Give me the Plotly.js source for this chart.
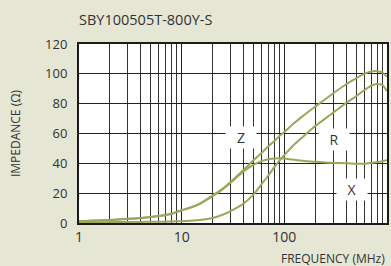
<!DOCTYPE html>
<html>
<head>
<meta charset="utf-8">
<script src="https://cdn.plot.ly/plotly-3.0.1.min.js"></script>
<style>html,body{margin:0;padding:0;background:#e5e6d3;}#chart{width:391px;height:266px;}</style>
</head>
<body>
<div id="chart"></div>
<script>
const freq = [1, 1.5, 2, 3, 4, 5, 6, 7, 8, 10, 12, 15, 20, 25, 30, 40, 50, 60, 70, 80, 90, 100, 120, 150, 200, 250, 300, 400, 500, 600, 700, 800, 900, 1000];
const zVals = [1.2, 1.6, 2.0, 2.8, 3.4, 4.0, 4.7, 5.4, 6.2, 8.5, 10.2, 13, 18.5, 23, 27.5, 35.5, 42, 47, 51.5, 55, 58.5, 61, 66, 71.5, 78, 83, 87, 93, 97, 100, 101.5, 101.8, 101, 98];
const rVals = [0.5, 0.55, 0.6, 0.7, 0.75, 0.8, 0.85, 0.9, 1.0, 1.2, 1.5, 2, 3.3, 5.5, 8, 13, 19, 26, 32, 37.5, 42, 45.5, 51.5, 57.5, 65, 70, 74, 80.5, 85, 89, 92, 93.2, 92.5, 88.5];
const xVals = [1.2, 1.6, 2.0, 2.8, 3.4, 4.0, 4.7, 5.4, 6.2, 8.5, 10.1, 12.8, 18, 22.5, 27, 34.5, 39, 41.5, 42.8, 43.3, 43.4, 43.2, 42.5, 41.8, 41, 40.6, 40.3, 40, 39.8, 39.8, 40.2, 40.8, 41.4, 42];
const curveNames = ['Z', 'R', 'X'];
const labelFreq = [37.8, 304, 452];
const labelImp = [57.2, 55.9, 22.3];
const xTickVals = [1, 10, 100, 1000];
const xTickText = ['1', '10', '100', '1000\u00a0\u00a0\u00a0\u00a0\u00a0'];
const yTickVals = [0, 20, 40, 60, 80, 100, 120];
const titleText = 'SBY100505T-800Y-S';
const xTitle = 'FREQUENCY (MHz)';
const yTitle = 'IMPEDANCE (\u03A9)';

const lineColor = '#9aa65a';
const series = [zVals, rVals, xVals];
const traces = series.map((v, i) => ({
  x: freq, y: v, type: 'scatter', mode: 'lines', name: curveNames[i],
  line: {color: lineColor, width: 2, shape: 'spline', smoothing: 0.6},
  hoverinfo: 'skip'
}));

const annotations = curveNames.map((n, i) => ({
  x: Math.log10(labelFreq[i]), y: labelImp[i], xref: 'x', yref: 'y',
  text: n, showarrow: false, bgcolor: '#ffffff', borderpad: 0, width: 30, height: 21,
  font: {family: 'Open Sans, sans-serif', size: 14, color: '#333333'}
}));
annotations.push({
  xref: 'paper', yref: 'paper', x: 1, y: 0, yshift: -35, xanchor: 'right', yanchor: 'middle',
  text: xTitle, showarrow: false, font: {family: 'Open Sans, sans-serif', size: 12, color: '#333333'}
});

const layout = {
  width: 391, height: 266,
  paper_bgcolor: '#e5e6d3', plot_bgcolor: '#ffffff',
  margin: {l: 79, r: 4, t: 44, b: 43},
  showlegend: false,
  title: {text: titleText, x: 0, xanchor: 'left', xref: 'paper', y: 0.925, yanchor: 'middle',
          font: {family: 'Open Sans, sans-serif', size: 14.5, color: '#333333'}},
  xaxis: {
    type: 'log', range: [0, 3], tickvals: xTickVals, ticktext: xTickText,
    showgrid: true, gridcolor: '#222222', gridwidth: 1,
    minor: {dtick: 'D1', showgrid: true, gridcolor: '#333333', gridwidth: 1},
    showline: true, linecolor: '#1a1a1a', linewidth: 2, mirror: true,
    ticks: '', zeroline: false,
    tickfont: {family: 'Open Sans, sans-serif', size: 14, color: '#333333'}
  },
  yaxis: {
    range: [0, 120], tickvals: yTickVals,
    showgrid: true, gridcolor: '#222222', gridwidth: 1,
    showline: true, linecolor: '#1a1a1a', linewidth: 2, mirror: true,
    ticks: '', zeroline: false, ticklabelstandoff: 7,
    tickfont: {family: 'Open Sans, sans-serif', size: 13, color: '#333333'},
    title: {text: yTitle, standoff: 22, font: {family: 'Open Sans, sans-serif', size: 12, color: '#333333'}}
  },
  annotations: annotations
};
Plotly.newPlot('chart', traces, layout, {displayModeBar: false, staticPlot: true});
</script>
</body>
</html>
